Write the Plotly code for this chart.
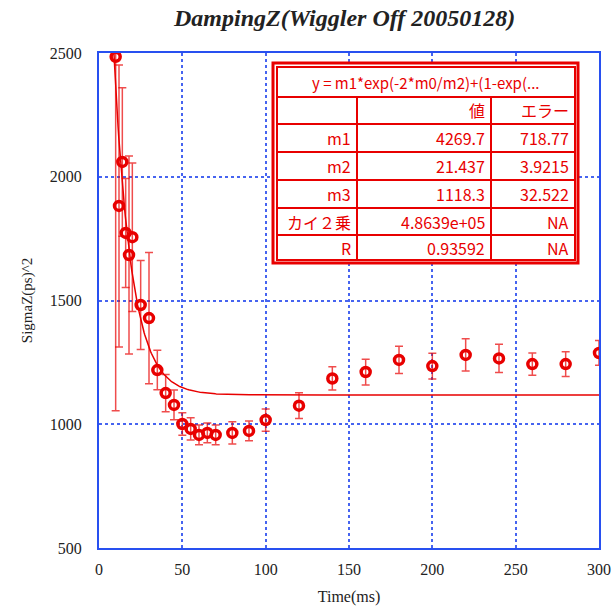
import numpy as np
import plotly.graph_objects as go

# ---- data ----
time_ms = [10, 12, 14, 16, 18, 20, 25, 30, 35, 40, 45, 50, 55, 60, 65, 70, 80, 90, 100,
           120, 140, 160, 180, 200, 220, 240, 260, 280, 300]
sigma_z2 = [2485, 1882, 2060, 1773, 1684, 1756, 1482, 1429, 1219, 1126, 1078, 1001, 981, 957,
            965, 957, 965, 973, 1017, 1075, 1185, 1211, 1260, 1235, 1280, 1266, 1243, 1243, 1288]
sigma_err = [1430, 570, 300, 220, 400, 300, 180, 265, 80, 75, 60, 45, 45, 40,
             40, 40, 45, 40, 45, 52, 47, 52, 55, 52, 65, 57, 45, 50, 50]

# fit parameters shown in the table
m1, m2, m3 = 4269.7, 21.437, 1118.3
fit_x = np.linspace(8, 300, 600)
fit_y = m1 * np.exp(-2 * fit_x / m2) + (1 - np.exp(-2 * fit_x / m2)) * m3

table_header = "y = m1*exp(-2*m0/m2)+(1-exp(..."
table_cols = ["", "値", "エラー"]
table_rows = [
    ["m1", "4269.7", "718.77"],
    ["m2", "21.437", "3.9215"],
    ["m3", "1118.3", "32.522"],
    ["カイ２乗", "4.8639e+05", "NA"],
    ["R", "0.93592", "NA"],
]

RED = "rgb(232,0,0)"
BLUE = "rgb(40,80,240)"

fig = go.Figure()
fig.add_trace(go.Scatter(x=fit_x, y=fit_y, mode="lines",
                         line=dict(color=RED, width=1.5), hoverinfo="skip"))
fig.add_trace(go.Scatter(
    x=time_ms, y=sigma_z2, mode="markers",
    marker=dict(symbol="circle-open", size=9, color=RED, line=dict(width=3.5, color=RED)),
    error_y=dict(type="data", array=sigma_err, visible=True, color="rgba(232,0,0,0.7)",
                 thickness=1.5, width=4),
    cliponaxis=True,
))

# ---- table overlay (pixel -> paper helpers) ----
L, R_, T, B = 99, 599, 53, 548
def px(x):
    return (x - L) / (R_ - L)
def py(y):
    return (B - y) / (B - T)

bx0, bx1, by0, by1 = 273, 578, 63, 263
col_edges = [277, 357, 491, 575]
row_edges = [67, 97, 124, 152, 180, 208, 235, 260]

shapes = []
shapes.append(dict(type="rect", xref="paper", yref="paper", x0=px(bx0), x1=px(bx1),
                   y0=py(by1), y1=py(by0), line=dict(color=RED, width=3),
                   fillcolor="white", layer="above"))
shapes.append(dict(type="rect", xref="paper", yref="paper", x0=px(col_edges[0]), x1=px(col_edges[-1]),
                   y0=py(row_edges[-1]), y1=py(row_edges[0]), line=dict(color=RED, width=2),
                   layer="above"))
for ry in row_edges[1:-1]:
    shapes.append(dict(type="line", xref="paper", yref="paper", x0=px(col_edges[0]), x1=px(col_edges[-1]),
                       y0=py(ry), y1=py(ry), line=dict(color=RED, width=2), layer="above"))
for cx in col_edges[1:-1]:
    shapes.append(dict(type="line", xref="paper", yref="paper", x0=px(cx), x1=px(cx),
                       y0=py(row_edges[-1]), y1=py(row_edges[1]), line=dict(color=RED, width=2),
                       layer="above"))

annotations = []
tfont = dict(family="Noto Sans CJK JP, Noto Sans, sans-serif", size=15, color=RED)
annotations.append(dict(xref="paper", yref="paper", x=px((col_edges[0] + col_edges[-1]) / 2),
                        y=py((row_edges[0] + row_edges[1]) / 2), text=table_header,
                        showarrow=False, font=tfont, xanchor="center", yanchor="middle"))
all_rows = [table_cols] + table_rows
for i, row in enumerate(all_rows):
    yc = (row_edges[i + 1] + row_edges[i + 2]) / 2
    for j, cell in enumerate(row):
        if not cell:
            continue
        annotations.append(dict(xref="paper", yref="paper", x=px(col_edges[j + 1] - 4), y=py(yc),
                                text=cell, showarrow=False, font=dict(tfont, size=16),
                                xanchor="right", yanchor="middle"))

annotations.append(dict(xref="paper", yref="paper", x=px(344), y=py(18),
                        text="<b><i>DampingZ(Wiggler Off 20050128)</i></b>", showarrow=False,
                        font=dict(family="Liberation Serif, serif", size=24, color="#222"),
                        xanchor="center", yanchor="middle"))

axis_common = dict(showline=True, linecolor=BLUE, linewidth=2, mirror=True,
                   showgrid=True, gridcolor="rgb(70,100,240)", griddash="dot", gridwidth=1.5,
                   zeroline=False, ticks="", automargin=False,
                   tickfont=dict(family="Liberation Serif, serif", size=16, color="#222"))

fig.update_layout(
    width=616, height=609,
    margin=dict(l=L, r=616 - R_, t=T, b=609 - B, autoexpand=False),
    paper_bgcolor="white", plot_bgcolor="white",
    showlegend=False,
    xaxis=dict(axis_common, range=[0, 300], tickvals=[0, 50, 100, 150, 200, 250, 300],
               ticklabelstandoff=6,
               title=dict(text="Time(ms)", standoff=14,
                          font=dict(family="Liberation Serif, serif", size=16, color="#222"))),
    yaxis=dict(axis_common, range=[500, 2500], tickvals=[500, 1000, 1500, 2000, 2500],
               ticklabelstandoff=12,
               title=dict(text="SigmaZ(ps)^2", standoff=14,
                          font=dict(family="Liberation Serif, serif", size=15, color="#222"))),
    shapes=shapes, annotations=annotations,
)

fig.write_html("out.html")
